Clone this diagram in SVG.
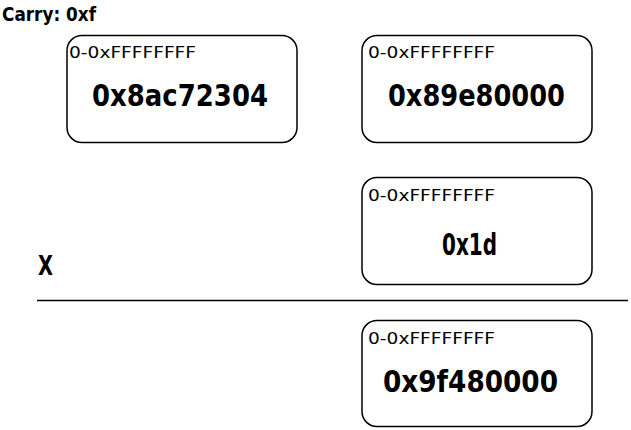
<svg xmlns="http://www.w3.org/2000/svg" width="631" height="430" viewBox="0 0 631 430">
<style>
.box{fill:#fff;stroke:#000;stroke-width:1.5}
.lbl{font-family:"DejaVu Sans","Liberation Sans",sans-serif;font-size:15.5px;fill:#000}
.val{font-family:"DejaVu Sans","Liberation Sans",sans-serif;font-weight:bold;font-size:31px;fill:#000}
.hd{font-family:"DejaVu Sans","Liberation Sans",sans-serif;font-weight:bold;font-size:19px;fill:#000}
</style>
<rect width="631" height="430" fill="#fff"/>
<text class="hd" x="2" y="21" textLength="94" lengthAdjust="spacingAndGlyphs">Carry: 0xf</text>
<g id="n1">
<rect class="box" x="67" y="35.5" width="230" height="107" rx="15"/>
<text class="lbl" x="69" y="58" textLength="127" lengthAdjust="spacingAndGlyphs">0-0xFFFFFFFF</text>
<text class="val" x="92" y="106" textLength="176" lengthAdjust="spacingAndGlyphs">0x8ac72304</text>
</g>
<g id="n2">
<rect class="box" x="362" y="35.5" width="230" height="107" rx="15"/>
<text class="lbl" x="368" y="58" textLength="127" lengthAdjust="spacingAndGlyphs">0-0xFFFFFFFF</text>
<text class="val" x="388" y="106" textLength="177" lengthAdjust="spacingAndGlyphs">0x89e80000</text>
</g>
<g id="n3">
<rect class="box" x="362" y="177.5" width="230" height="107" rx="15"/>
<text class="lbl" x="368" y="201" textLength="127" lengthAdjust="spacingAndGlyphs">0-0xFFFFFFFF</text>
<text class="val" x="442" y="255" textLength="55" lengthAdjust="spacingAndGlyphs">0x1d</text>
</g>
<text class="hd" x="38" y="275" style="font-size:26px" textLength="15" lengthAdjust="spacingAndGlyphs">X</text>
<g id="connectors">
<line x1="37" y1="300.5" x2="628" y2="300.5" stroke="#000" stroke-width="1.5"/>
</g>
<g id="n4">
<rect class="box" x="362" y="320.5" width="230" height="106" rx="15"/>
<text class="lbl" x="368" y="344" textLength="127" lengthAdjust="spacingAndGlyphs">0-0xFFFFFFFF</text>
<text class="val" x="383" y="392" textLength="175" lengthAdjust="spacingAndGlyphs">0x9f480000</text>
</g>
</svg>
